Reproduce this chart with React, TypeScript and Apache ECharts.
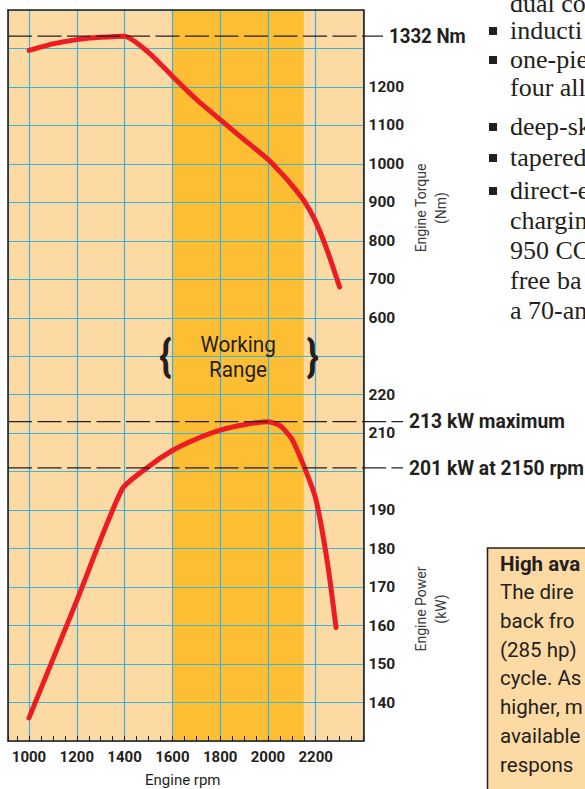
import React, { useEffect, useRef } from "react";
import * as echarts from "echarts";

// ---- data ----
const rpmMajorTicks = [1000, 1200, 1400, 1600, 1800, 2000, 2200];
const torqueRpm = [1000, 1100, 1200, 1300, 1400, 1500, 1600, 1700, 1800, 1900, 2000, 2050, 2100, 2150, 2200, 2250, 2300];
const torqueNm = [1295, 1312, 1323, 1329, 1332, 1290, 1228, 1168, 1115, 1063, 1012, 980, 945, 905, 850, 772, 680];
const powerRpm = [1000, 1200, 1390, 1500, 1600, 1700, 1800, 1900, 2000, 2050, 2100, 2150, 2200, 2250, 2285];
const powerKw = [136, 166.5, 195.5, 201.3, 205.5, 208.5, 210.8, 212.2, 213, 212, 208.5, 201.5, 193, 176, 159.5];
const workingRange = [1600, 2150];
const torqueTickLabels = [600, 700, 800, 900, 1000, 1100, 1200];
const powerTickLabels = [140, 150, 160, 170, 180, 190, 210, 220];
const torquePeakNm = 1332;
const powerPeakKw = 213;
const powerAt2150Kw = 201;

const rpmMin = 912;
const rpmMax = 2400;
const torqueMin = -500;
const torqueMax = 1400;
const powerMin = 130;
const powerMax = 320;

const columnLines = [
  { t: "dual co", y: 3, bullet: false },
  { t: "inducti", y: 30, bullet: true },
  { t: "one-pie", y: 59, bullet: true },
  { t: "four all", y: 87, bullet: false },
  { t: "deep-sk", y: 126, bullet: true },
  { t: "tapered", y: 157, bullet: true },
  { t: "direct-e", y: 190, bullet: true },
  { t: "chargin", y: 220, bullet: false },
  { t: "950 CC", y: 250, bullet: false },
  { t: "free ba", y: 280, bullet: false },
  { t: "a 70-an", y: 310, bullet: false },
];
const boxTitle = "High ava";
const boxLines = ["The dire", "back fro", "(285 hp)", "cycle. As", "higher, m", "available", "respons"];

const SANS = 'Roboto, "Liberation Sans", sans-serif';
const SERIF = '"Liberation Serif", "DejaVu Serif", serif';
const PEACH = "#FDD9A3";
const ORANGE = "#FDBE33";
const GRID = "#3BB4DA";
const RED = "#EC1C24";
const DARK = "#231F20";

export default function App() {
  const ref = useRef<HTMLDivElement>(null);
  useEffect(() => {
    if (!ref.current) return;
    const chart = echarts.init(ref.current, undefined, { renderer: "svg" });
    const border = { show: true, onZero: false, lineStyle: { color: DARK, width: 1.6 } };
    const option: any = {
      animation: false,
      backgroundColor: "#ffffff",
      grid: {
        left: 8, top: 10, width: 355.5, height: 731, show: true, backgroundColor: PEACH, borderWidth: 0,
        containLabel: false, outerBoundsMode: "none",
      },
      xAxis: [
        {
          type: "value", min: rpmMin, max: rpmMax, minInterval: 50, maxInterval: 50, position: "bottom", z: 3,
          axisLine: border,
          axisTick: { show: true, inside: true, length: 5, lineStyle: { color: DARK, width: 1 } },
          axisLabel: {
            margin: 8, fontFamily: SANS, fontWeight: "bold", fontSize: 15, color: DARK,
            formatter: (v: number) => (rpmMajorTicks.includes(v) ? String(v) : ""),
          },
          splitLine: { show: false },
          name: "Engine rpm", nameLocation: "middle", nameGap: 31,
          nameTextStyle: { fontFamily: SANS, fontSize: 15, color: DARK, padding: [0, 6, 0, 0] },
        },
        {
          type: "value", min: rpmMin, max: rpmMax, minInterval: 200, maxInterval: 200, position: "bottom", z: 1.5,
          axisLine: { show: false, onZero: false }, axisTick: { show: false }, axisLabel: { show: false },
          splitLine: { show: true, lineStyle: { color: GRID, width: 1.2 } },
        },
        {
          type: "value", min: rpmMin, max: rpmMax, position: "top", z: 3,
          axisLine: border, axisTick: { show: false }, axisLabel: { show: false }, splitLine: { show: false },
        },
      ],
      yAxis: [
        {
          type: "value", min: torqueMin, max: torqueMax, interval: 100, position: "right", z: 1.5,
          axisLine: { show: false, onZero: false }, axisTick: { show: false },
          axisLabel: {
            margin: 5, fontFamily: SANS, fontWeight: "bold", fontSize: 15.5, color: DARK,
            formatter: (v: number) => (torqueTickLabels.includes(v) ? String(v) : ""),
          },
          splitLine: { show: true, lineStyle: { color: GRID, width: 1.2 } },
        },
        {
          type: "value", min: powerMin, max: powerMax, interval: 10, position: "right", z: 3,
          axisLine: border, axisTick: { show: false },
          axisLabel: {
            margin: 5, fontFamily: SANS, fontWeight: "bold", fontSize: 15.5, color: DARK,
            formatter: (v: number) => (powerTickLabels.includes(v) ? String(v) : ""),
          },
          splitLine: { show: false },
        },
        {
          type: "value", min: torqueMin, max: torqueMax, position: "left", z: 3,
          axisLine: border, axisTick: { show: false }, axisLabel: { show: false }, splitLine: { show: false },
        },
      ],
      series: [
        {
          type: "line", name: "Engine Torque", xAxisIndex: 0, yAxisIndex: 0, z: 4,
          data: torqueRpm.map((r, i) => [r, torqueNm[i]]),
          symbol: "none", smooth: 0.2,
          lineStyle: { color: RED, width: 5, cap: "round", join: "round" },
          markArea: {
            silent: true, itemStyle: { color: ORANGE },
            data: [[{ xAxis: workingRange[0] }, { xAxis: workingRange[1] }]],
          },
        },
        {
          type: "line", name: "Engine Power", xAxisIndex: 0, yAxisIndex: 1, z: 4,
          data: powerRpm.map((r, i) => [r, powerKw[i]]),
          symbol: "none", smooth: 0.2,
          lineStyle: { color: RED, width: 5, cap: "round", join: "round" },
        },
      ],
    };
    chart.setOption(option);

    const yT = chart.convertToPixel({ yAxisIndex: 0 }, torquePeakNm) as number;
    const yP = chart.convertToPixel({ yAxisIndex: 1 }, powerPeakKw) as number;
    const yQ = chart.convertToPixel({ yAxisIndex: 1 }, powerAt2150Kw) as number;
    const xL = chart.convertToPixel({ xAxisIndex: 0 }, rpmMin) as number;
    const xW0 = chart.convertToPixel({ xAxisIndex: 0 }, workingRange[0]) as number;
    const xW1 = chart.convertToPixel({ xAxisIndex: 0 }, workingRange[1]) as number;
    const dash = { stroke: DARK, lineWidth: 1.2, lineDash: [24, 5.5] };
    const bold20 = { fontFamily: SANS, fontWeight: "bold", fontSize: 20.5, fill: DARK, verticalAlign: "middle" };
    const brace = { fontFamily: SANS, fontWeight: "bold", fontSize: 44, fill: DARK, align: "center", verticalAlign: "middle" };

    const graphic: any[] = [
      { type: "line", z: 10, shape: { x1: xL, y1: yT, x2: 383, y2: yT }, style: dash },
      { type: "text", z: 10, x: 389, y: yT, scaleX: 0.91, style: { ...bold20, text: "1332 Nm" } },
      { type: "line", z: 10, shape: { x1: xL, y1: yP, x2: 403, y2: yP }, style: dash },
      { type: "text", z: 10, x: 409, y: yP, scaleX: 0.94, style: { ...bold20, text: "213 kW maximum" } },
      { type: "line", z: 10, shape: { x1: xL, y1: yQ, x2: 403, y2: yQ }, style: dash },
      { type: "text", z: 10, x: 409, y: yQ, scaleX: 0.94, style: { ...bold20, text: "201 kW at 2150 rpm" } },
      {
        type: "text", z: 10, x: (xW0 + xW1) / 2, y: 357, scaleX: 0.94,
        style: { text: "Working\nRange", fontFamily: SANS, fontSize: 22, lineHeight: 25, fill: DARK, align: "center", verticalAlign: "middle" },
      },
      { type: "text", z: 10, x: xW0 - 7, y: 356, scaleX: 0.85, style: { ...brace, text: "{" } },
      { type: "text", z: 10, x: xW1 + 9, y: 356, scaleX: 0.85, style: { ...brace, text: "}" } },
      {
        type: "text", z: 10, x: 430.5, y: 208, rotation: Math.PI / 2,
        style: { text: "Engine Torque\n(Nm)", fontFamily: SANS, fontSize: 14, lineHeight: 20, fill: "#3a3a3a", align: "center", verticalAlign: "middle" },
      },
      {
        type: "text", z: 10, x: 430.5, y: 609, rotation: Math.PI / 2,
        style: { text: "Engine Power\n(kW)", fontFamily: SANS, fontSize: 14, lineHeight: 20, fill: "#3a3a3a", align: "center", verticalAlign: "middle" },
      },
      { type: "rect", z: 5, shape: { x: 487.5, y: 548, width: 120, height: 260 }, style: { fill: PEACH, stroke: DARK, lineWidth: 1.5 } },
      { type: "text", z: 10, x: 500, y: 564, style: { text: boxTitle, fontFamily: SANS, fontWeight: "bold", fontSize: 20.5, fill: DARK, verticalAlign: "middle" } },
    ];
    boxLines.forEach((t, i) => {
      graphic.push({ type: "text", z: 10, x: 500, y: 592 + i * 28.8, style: { text: t, fontFamily: SANS, fontSize: 20.5, fill: DARK, verticalAlign: "middle" } });
    });
    columnLines.forEach((l) => {
      graphic.push({ type: "text", z: 10, x: 510, y: l.y, style: { text: l.t, fontFamily: SERIF, fontSize: 26, fill: DARK, verticalAlign: "middle" } });
      if (l.bullet) graphic.push({ type: "rect", z: 10, shape: { x: 489, y: l.y - 3, width: 8, height: 8 }, style: { fill: DARK } });
    });
    chart.setOption({ graphic });

    return () => chart.dispose();
  }, []);
  return <div ref={ref} style={{ position: "absolute", left: 0, top: 0, width: 585, height: 789 }} />;
}
